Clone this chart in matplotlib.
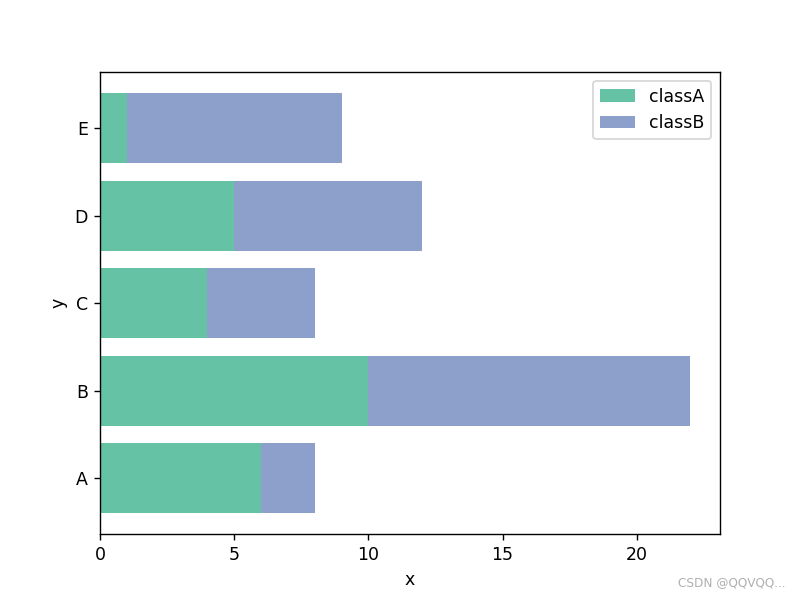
import matplotlib
matplotlib.use("Agg")
import matplotlib.pyplot as plt

categories = ["A", "B", "C", "D", "E"]
classA = [6, 10, 4, 5, 1]
classB = [2, 12, 4, 7, 8]

fig, ax = plt.subplots(figsize=(6.4, 4.8), dpi=125)
ax.barh(categories, classA, color="#66c2a5", label="classA")
ax.barh(categories, classB, left=classA, color="#8da0cb", label="classB")
ax.set_xlabel("x")
ax.set_ylabel("y")
ax.legend(loc="upper right")
fig.text(0.982, 0.018, "CSDN @QQVQQ...", ha="right", va="bottom", fontsize=7, color="#b0b0b0")
fig.savefig("out.png", dpi=125)
